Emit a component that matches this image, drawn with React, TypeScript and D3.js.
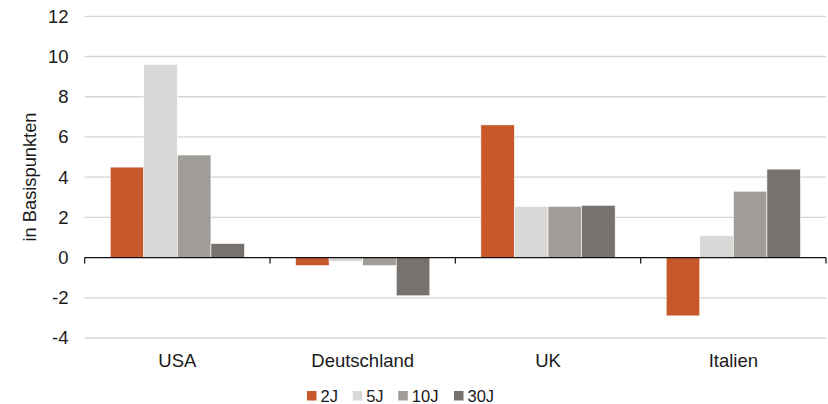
import React from "react";
import * as d3 from "d3";

// data
const categories = ["USA", "Deutschland", "UK", "Italien"];
const seriesNames = ["2J", "5J", "10J", "30J"];
const values2J = [4.5, -0.4, 6.6, -2.9];
const values5J = [9.6, -0.2, 2.55, 1.1];
const values10J = [5.1, -0.4, 2.55, 3.3];
const values30J = [0.7, -1.9, 2.6, 4.4];
const yTicks = [-4, -2, 0, 2, 4, 6, 8, 10, 12];
const colors = ["#c8572b", "#d9d8d6", "#a09d99", "#77726e"];

const seriesValues = [values2J, values5J, values10J, values30J];

export default function App() {
  const width = 828;
  const height = 404;
  const font = "'Liberation Sans', Arial, sans-serif";

  const x = d3.scaleBand<string>().domain(categories).range([84.7, 826]).padding(0);
  const inner = d3
    .scaleBand<string>()
    .domain(seriesNames)
    .range([0, x.bandwidth()])
    .paddingInner(0)
    .paddingOuter(0.76);
  const y = d3.scaleLinear().domain([-4, 12]).range([338, 16.3]);

  const boundaries = categories.map((c) => x(c) as number).concat([826]);

  return (
    <svg
      width={width}
      height={height}
      style={{ position: "absolute", left: 0, top: 0, background: "white" }}
      fontFamily={font}
    >
      {/* gridlines */}
      <g>
        {yTicks
          .filter((t) => t !== 0)
          .map((t) => (
            <line key={t} x1={84.7} x2={826} y1={y(t)} y2={y(t)} stroke="#d4d4d4" strokeWidth={1.3} />
          ))}
      </g>
      {/* y labels */}
      <g fontSize={18.5} fill="#1a1a1a" textAnchor="end">
        {yTicks.map((t) => (
          <text key={t} x={68.5} y={y(t)} dy="0.35em">
            {t}
          </text>
        ))}
      </g>
      <text
        transform={`translate(36,177) rotate(-90)`}
        textAnchor="middle"
        fontSize={18.3}
        fill="#1a1a1a"
      >
        in Basispunkten
      </text>
      {/* bars */}
      <g>
        {seriesValues.map((vals, si) =>
          vals.map((v, ci) => {
            const bx = (x(categories[ci]) as number) + (inner(seriesNames[si]) as number);
            const y0 = y(0);
            const y1 = y(v);
            return (
              <rect
                key={`${si}-${ci}`}
                x={bx}
                y={Math.min(y0, y1)}
                width={inner.bandwidth()}
                height={Math.abs(y1 - y0)}
                fill={colors[si]}
                stroke="white"
                strokeWidth={0.6}
              />
            );
          })
        )}
      </g>
      {/* zero axis and ticks */}
      <line x1={84.7} x2={826} y1={y(0)} y2={y(0)} stroke="#111" strokeWidth={1.4} />
      {boundaries.map((b, i) => (
        <line key={i} x1={b} x2={b} y1={y(0)} y2={y(0) + 6} stroke="#111" strokeWidth={1.2} />
      ))}
      {/* category labels */}
      <g fontSize={18.5} fill="#1a1a1a" textAnchor="middle">
        {categories.map((c) => (
          <text key={c} x={(x(c) as number) + x.bandwidth() / 2} y={367.3}>
            {c}
          </text>
        ))}
      </g>
      {/* legend */}
      <g fontSize={16.5} fill="#1a1a1a">
        {seriesNames.map((s, i) => {
          const lx = [307, 352.7, 398.3, 454][i];
          return (
            <g key={s}>
              <rect x={lx} y={391} width={9.5} height={9.5} fill={colors[i]} />
              <text x={lx + 13.5} y={401.5}>
                {s}
              </text>
            </g>
          );
        })}
      </g>
    </svg>
  );
}
